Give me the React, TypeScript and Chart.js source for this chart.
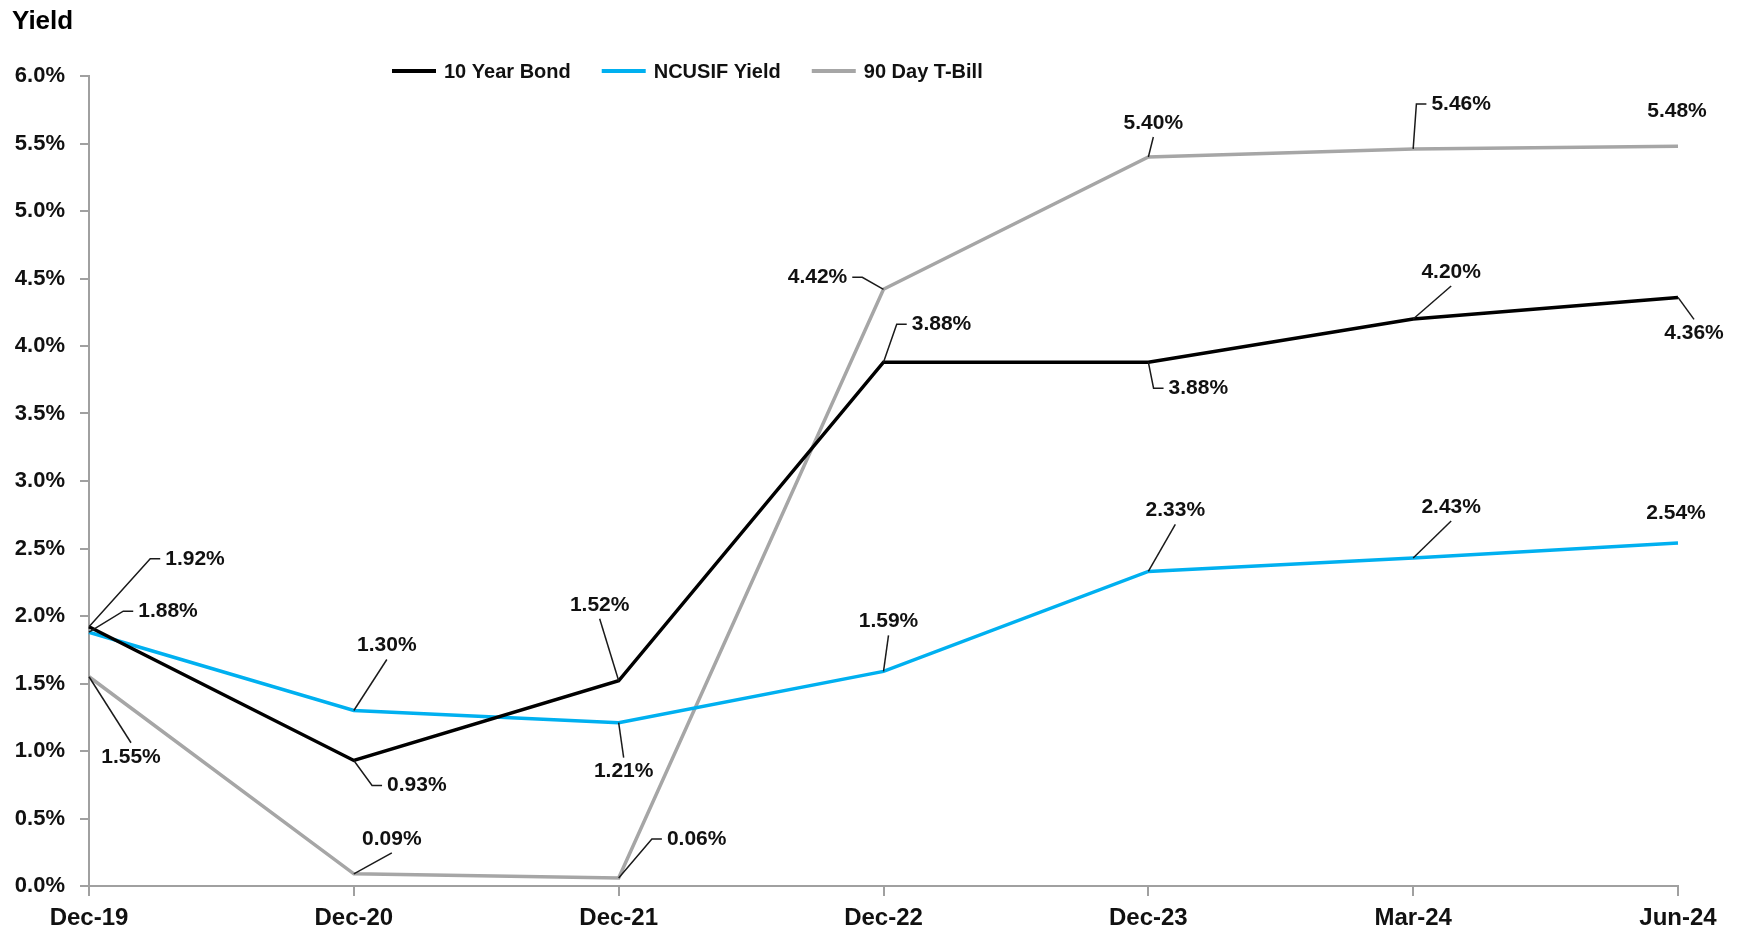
import React, { useEffect, useRef } from "react";
import { Chart, registerables } from "chart.js";

Chart.register(...registerables);

const categories = ["Dec-19", "Dec-20", "Dec-21", "Dec-22", "Dec-23", "Mar-24", "Jun-24"];
const bond10Y = [1.92, 0.93, 1.52, 3.88, 3.88, 4.2, 4.36];
const ncusifYield = [1.88, 1.3, 1.21, 1.59, 2.33, 2.43, 2.54];
const tBill90 = [1.55, 0.09, 0.06, 4.42, 5.4, 5.46, 5.48];
const yTickValues = [0, 0.5, 1, 1.5, 2, 2.5, 3, 3.5, 4, 4.5, 5, 5.5, 6];

// label placement (pixel offsets of label centre from its point) - style only
const bondLabelPos = [[106, -68, 1], [63, 25, 1], [-19, -76, 1], [58, -38, 1], [50, 26, 1], [38, -47, 1], [16, 36, 1]];
const ncusifLabelPos = [[79, -21, 1], [33, -65, 1], [5, 49, 1], [5, -50, 1], [27, -61, 1], [38, -51, 1], [-2, -30, 0]];
const tBillLabelPos = [[42, 80, 1], [38, -35, 1], [78, -39, 1], [-66, -12, 1], [5, -34, 1], [48, -45, 1], [-1, -35, 0]];

const FONT = "'Liberation Sans', Arial, sans-serif";

const labelPlugin = {
  id: "dataLabelsCustom",
  afterDatasetsDraw(chart: any) {
    const ctx = chart.ctx;
    const positions = [bondLabelPos, ncusifLabelPos, tBillLabelPos];
    ctx.save();
    ctx.font = `bold 21px ${FONT}`;
    ctx.textAlign = "center";
    ctx.textBaseline = "middle";
    chart.data.datasets.forEach((ds: any, di: number) => {
      const meta = chart.getDatasetMeta(di);
      meta.data.forEach((pt: any, j: number) => {
        const [dx, dy, leader] = positions[di][j];
        const text = ds.data[j].toFixed(2) + "%";
        const w = ctx.measureText(text).width;
        const h = 20;
        const cx = pt.x + dx;
        const cy = pt.y + dy;
        if (leader) {
          ctx.strokeStyle = "#1a1a1a";
          ctx.lineWidth = 1.5;
          ctx.beginPath();
          ctx.moveTo(pt.x, pt.y);
          if (Math.abs(dx) > w / 2 + 15) {
            const sign = dx > 0 ? 1 : -1;
            const endX = cx - sign * (w / 2 + 5);
            const elbowX = endX - sign * 10;
            ctx.lineTo(elbowX, cy);
            ctx.lineTo(endX, cy);
          } else {
            const sign = dy > 0 ? 1 : -1;
            ctx.lineTo(cx, cy - sign * (h / 2 + 4));
          }
          ctx.stroke();
        }
        ctx.fillStyle = "#111111";
        ctx.fillText(text, cx, cy);
      });
    });
    ctx.restore();
  },
};

const decorPlugin = {
  id: "titleLegendCustom",
  afterDraw(chart: any) {
    const ctx = chart.ctx;
    ctx.save();
    ctx.fillStyle = "#000000";
    ctx.font = `bold 26px ${FONT}`;
    ctx.textAlign = "left";
    ctx.textBaseline = "alphabetic";
    ctx.fillText("Yield", 12, 29);

    ctx.font = `bold 20px ${FONT}`;
    ctx.textBaseline = "middle";
    let x = 392;
    const y = 71;
    chart.data.datasets.forEach((ds: any) => {
      ctx.fillStyle = ds.borderColor;
      ctx.fillRect(x, y - 2, 44, 4);
      x += 52;
      ctx.fillStyle = "#111111";
      ctx.fillText(ds.label, x, y + 1);
      x += ctx.measureText(ds.label).width + 31;
    });
    ctx.restore();
  },
};

export default function App() {
  const canvasRef = useRef<HTMLCanvasElement | null>(null);

  useEffect(() => {
    if (!canvasRef.current) return;
    const chart = new Chart(canvasRef.current, {
      type: "line",
      data: {
        labels: categories,
        datasets: [
          { label: "10 Year Bond", data: bond10Y, borderColor: "#000000", backgroundColor: "#000000", borderWidth: 3.5, pointRadius: 0, tension: 0 },
          { label: "NCUSIF Yield", data: ncusifYield, borderColor: "#00b0f0", backgroundColor: "#00b0f0", borderWidth: 3.5, pointRadius: 0, tension: 0 },
          { label: "90 Day T-Bill", data: tBill90, borderColor: "#a6a6a6", backgroundColor: "#a6a6a6", borderWidth: 3.5, pointRadius: 0, tension: 0 },
        ],
      },
      options: {
        animation: false,
        responsive: true,
        maintainAspectRatio: false,
        layout: { padding: { left: 8, top: 76, right: 62, bottom: 0 } },
        plugins: { legend: { display: false }, title: { display: false }, tooltip: { enabled: false } },
        scales: {
          x: {
            offset: false,
            grid: { display: true, drawOnChartArea: false, drawTicks: true, tickLength: 10, color: "#a0a0a0", lineWidth: 2, offset: false },
            border: { color: "#a0a0a0", width: 2 },
            ticks: { color: "#111111", font: { family: FONT, size: 24, weight: "bold" }, padding: 8, maxRotation: 0, autoSkip: false },
            afterFit: (scale: any) => { scale.height = 51; },
          },
          y: {
            min: 0,
            max: 6,
            afterBuildTicks: (scale: any) => { scale.ticks = yTickValues.map((v) => ({ value: v })); },
            grid: { display: true, drawOnChartArea: false, drawTicks: true, tickLength: 9, color: "#a0a0a0", lineWidth: 2 },
            border: { color: "#a0a0a0", width: 2 },
            ticks: { color: "#111111", font: { family: FONT, size: 22, weight: "bold" }, padding: 15, callback: (v: any) => Number(v).toFixed(1) + "%" },
            afterFit: (scale: any) => { scale.width = 81; },
          },
        },
      },
      plugins: [labelPlugin, decorPlugin],
    } as any);
    return () => chart.destroy();
  }, []);

  return (
    <div style={{ position: "fixed", left: 0, top: 0, width: 1740, height: 937, background: "#ffffff" }}>
      <canvas ref={canvasRef} />
    </div>
  );
}
